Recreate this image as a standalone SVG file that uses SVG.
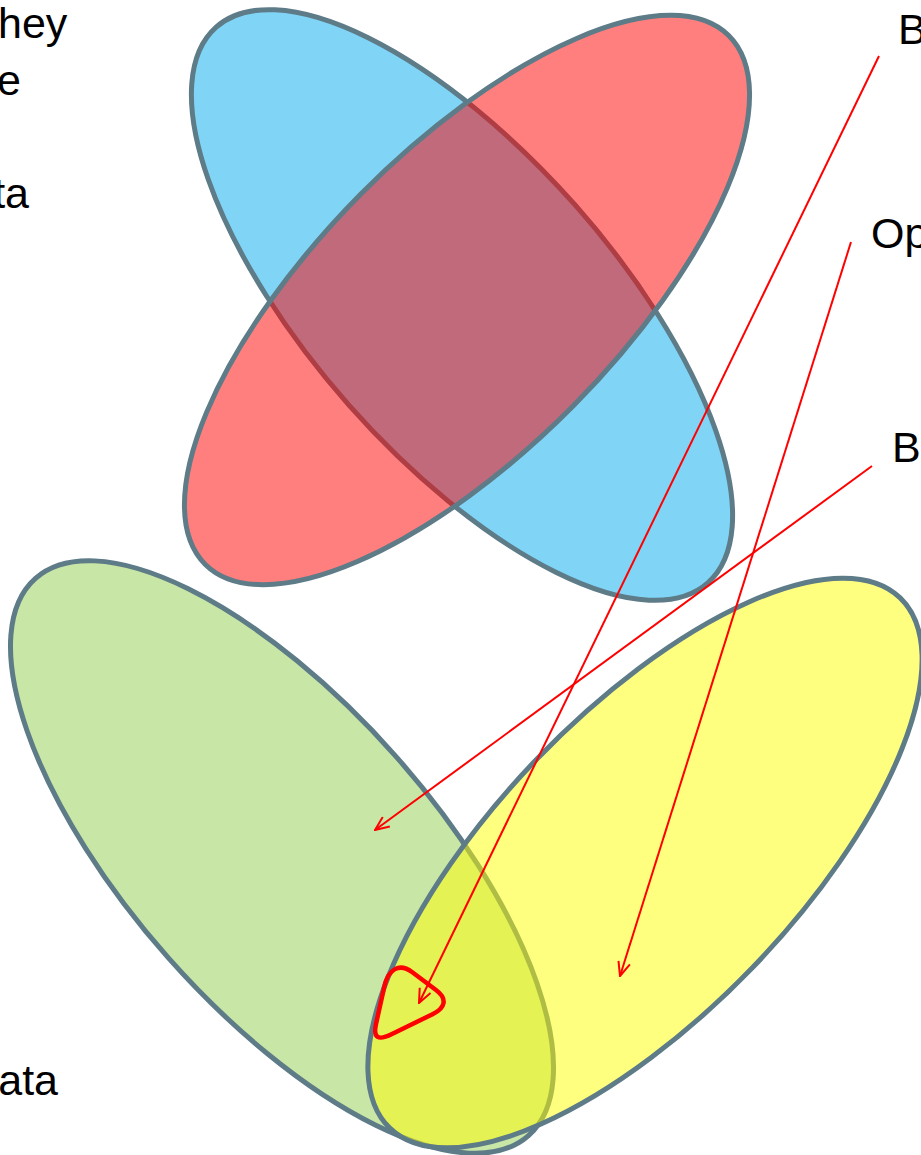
<svg xmlns="http://www.w3.org/2000/svg" width="921" height="1155" viewBox="0 0 921 1155">
<style>
.el{stroke:#5E7B88;stroke-width:5}
.lbl{font-family:"Liberation Sans",Arial,sans-serif;font-size:43px;fill:#000}
.arr{stroke:#FF0000;stroke-width:2;fill:none}
</style>
<defs>
<marker id="ah" viewBox="0 0 16 14" refX="15" refY="7" markerWidth="16" markerHeight="14" markerUnits="userSpaceOnUse" orient="auto">
<path d="M1,1 L15,7 L1,13" fill="none" stroke="#FF0000" stroke-width="2"/>
</marker>
</defs>
<g id="green"><ellipse class="el" cx="282" cy="857" rx="372" ry="152" transform="rotate(48.5 282 857)" fill="#C8E6A6"/></g>
<g id="yellow"><ellipse class="el" cx="645" cy="863" rx="368" ry="150" transform="rotate(-46.1 645 863)" fill="#FFFF00" fill-opacity="0.5"/></g>
<g id="blue"><ellipse class="el" cx="462" cy="305" rx="371" ry="151" transform="rotate(48.5 462 305)" fill="#80D5F7"/></g>
<g id="red"><ellipse class="el" cx="467" cy="300" rx="372" ry="150" transform="rotate(-45.3 467 300)" fill="#FF0000" fill-opacity="0.5"/></g>
<g id="highlight"><path d="M384,988 C388,968 400,963 412,972 L436,990 C448,999 445,1008 433,1014 L392,1034 C378,1041 373,1038 376,1024 Z" fill="none" stroke="#FF0000" stroke-width="4.5" stroke-linejoin="round"/></g>
<g id="texts">
<text class="lbl" x="-2" y="38">hey</text>
<text class="lbl" x="21" y="95" text-anchor="end">e</text>
<text class="lbl" x="29" y="208" text-anchor="end">ta</text>
<text class="lbl" x="58" y="1095" text-anchor="end">ata</text>
<text class="lbl" x="898" y="44">B</text>
<text class="lbl" x="871" y="248">Op</text>
<text class="lbl" x="892" y="462">B</text>
</g>
<g id="connectors">
<line class="arr" x1="879" y1="56" x2="419" y2="1003" marker-end="url(#ah)"/>
<line class="arr" x1="851" y1="242" x2="620" y2="976" marker-end="url(#ah)"/>
<line class="arr" x1="872" y1="466" x2="375" y2="830" marker-end="url(#ah)"/>
</g>
</svg>
